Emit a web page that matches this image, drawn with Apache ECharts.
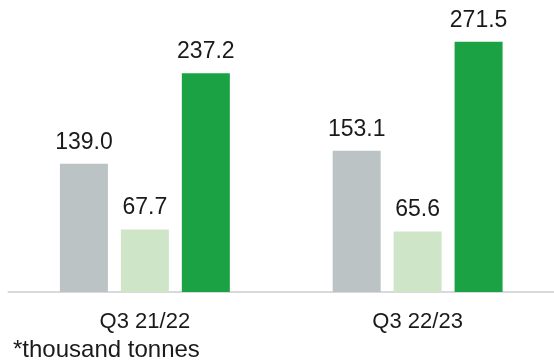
<!DOCTYPE html>
<html>
<head>
<meta charset="utf-8">
<script src="https://cdn.jsdelivr.net/npm/echarts@6/dist/echarts.min.js"></script>
<style>html,body{margin:0;padding:0;background:#fff;}#c{width:554px;height:364px;}</style>
</head>
<body>
<div id="c"></div>
<script>
const categories = ['Q3 21/22', 'Q3 22/23'];
const seriesA = [139.0, 153.1];
const seriesB = [67.7, 65.6];
const seriesC = [237.2, 271.5];
const colors = ['#bcc3c4', '#cfe5c8', '#1ba244'];
const footnote = '*thousand tonnes';

const chart = echarts.init(document.getElementById('c'), null, {renderer: 'canvas'});
const font = 'Liberation Sans, Arial, sans-serif';
const label = {show: true, position: 'top', distance: 10, fontSize: 23, color: '#1a1a1a', fontFamily: font,
  formatter: p => p.value.toFixed(1)};
function mk(data, color) {
  return {type: 'bar', data: data, barWidth: 48, barGap: '27%', itemStyle: {color: color}, label: label, silent: true};
}
chart.setOption({
  animation: false,
  grid: {left: 8.5, width: 550, top: 15.4, bottom: 72},
  xAxis: {type: 'category', data: categories,
    axisLine: {lineStyle: {color: '#d9d9d9', width: 2}}, axisTick: {show: false},
    axisLabel: {fontSize: 22, color: '#1a1a1a', fontFamily: font, margin: 19}},
  yAxis: {type: 'value', min: 0, max: 300, show: false, splitLine: {show: false}},
  series: [mk(seriesA, colors[0]), mk(seriesB, colors[1]), mk(seriesC, colors[2])],
  graphic: [{type: 'text', left: 13, top: 338, style: {text: footnote, fontSize: 24, fill: '#1a1a1a', fontFamily: font}}]
});
</script>
</body>
</html>
